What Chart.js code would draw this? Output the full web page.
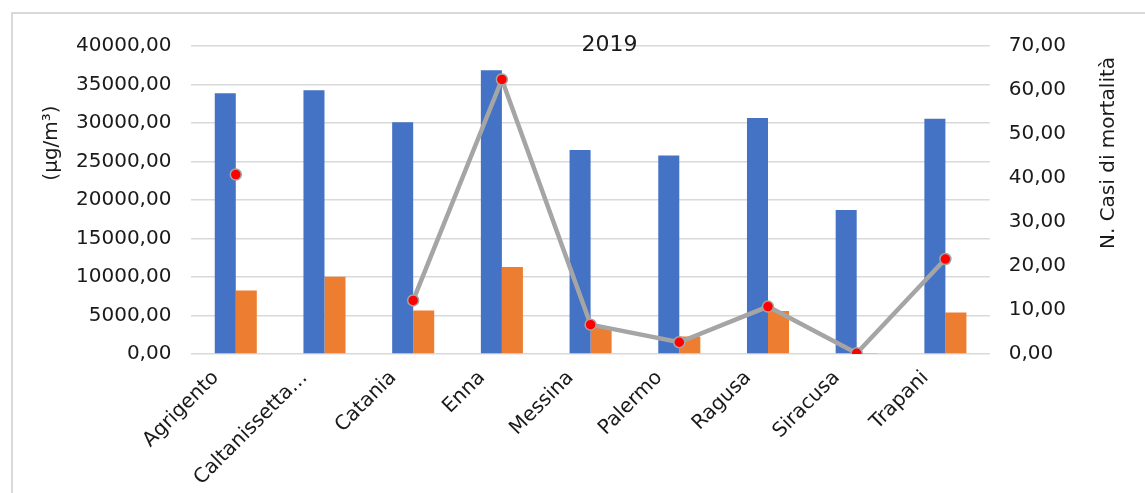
<!DOCTYPE html>
<html>
<head>
<meta charset="utf-8">
<script src="https://cdn.jsdelivr.net/npm/chart.js@4"></script>
<style>
  html, body { margin: 0; padding: 0; background: #fff; overflow: hidden; }
  #box { position: absolute; left: 11px; top: 12px; width: 1195px; height: 500px; border: 2px solid #d9d9d9; }
</style>
</head>
<body>
<div id="box"><canvas id="chart"></canvas></div>
<script>
const categories = ['Agrigento', 'Caltanissetta…', 'Catania', 'Enna', 'Messina', 'Palermo', 'Ragusa', 'Siracusa', 'Trapani'];
const serieBlu = [33850, 34250, 30100, 36850, 26500, 25800, 30650, 18700, 30550];
const serieArancio = [8250, 10050, 5650, 11300, 3400, 2300, 5600, 150, 5400];
const casiMortalita = [40.8, null, 12.2, 62.4, 6.7, 2.7, 10.8, 0.2, 21.6];

const titolo = '2019';
const titoloSx = '(µg/m³)';
const titoloDx = 'N. Casi di mortalità';

const font = 'DejaVu Sans';
const textColor = '#1a1a1a';

function virgola(v) {
    return v.toFixed(2).replace('.', ',');
}

// titoli disegnati a mano: l'asse destro in Excel legge dal basso verso l'alto
const titoliPlugin = {
    id: 'titoli',
    afterDraw(chart) {
        const ctx = chart.ctx;
        const area = chart.chartArea;
        ctx.save();
        ctx.fillStyle = textColor;
        ctx.textAlign = 'center';
        ctx.textBaseline = 'middle';

        ctx.font = '22px "' + font + '"';
        ctx.fillText(titolo, (area.left + area.right) / 2 + 19, area.top - 1);

        ctx.font = '20px "' + font + '"';
        ctx.save();
        ctx.translate(area.left - 140, area.top + 97);
        ctx.rotate(-Math.PI / 2);
        ctx.fillText(titoloSx, 0, 0);
        ctx.restore();

        ctx.save();
        ctx.translate(area.right + 119, area.top + 107);
        ctx.rotate(-Math.PI / 2);
        ctx.fillText(titoloDx, 0, 0);
        ctx.restore();
        ctx.restore();
    }
};

Chart.defaults.font.family = font;
Chart.defaults.font.size = 20;
Chart.defaults.color = textColor;

new Chart(document.getElementById('chart'), {
    type: 'bar',
    data: {
        labels: categories,
        datasets: [
            {
                type: 'line',
                label: titoloDx,
                data: casiMortalita,
                yAxisID: 'y2',
                borderColor: '#a5a5a5',
                borderWidth: 4.5,
                pointRadius: 5.5,
                pointBackgroundColor: '#ff0000',
                pointBorderColor: '#a5a5a5',
                pointBorderWidth: 1.5,
                spanGaps: false,
                tension: 0,
                order: 0
            },
            {
                label: 'Serie 1',
                data: serieBlu,
                backgroundColor: '#4472c4',
                yAxisID: 'y',
                order: 1
            },
            {
                label: 'Serie 2',
                data: serieArancio,
                backgroundColor: '#ed7d31',
                yAxisID: 'y',
                order: 1
            }
        ]
    },
    options: {
        responsive: true,
        maintainAspectRatio: false,
        animation: false,
        categoryPercentage: 0.474,
        barPercentage: 1,
        layout: { padding: { left: 43, right: 123, top: 30, bottom: 20 } },
        plugins: {
            legend: { display: false },
            tooltip: { enabled: false }
        },
        scales: {
            x: {
                grid: { display: false },
                border: { display: false },
                ticks: { minRotation: 45, maxRotation: 45, padding: 4, labelOffset: -20, autoSkip: false }
            },
            y: {
                position: 'left',
                min: 0,
                max: 40000,
                ticks: { stepSize: 5000, padding: 20, callback: v => virgola(v) },
                grid: { color: '#d9d9d9', lineWidth: 1.5, drawTicks: false },
                border: { display: false }
            },
            y2: {
                position: 'right',
                min: 0,
                max: 70,
                ticks: { stepSize: 10, padding: 19, callback: v => virgola(v) },
                grid: { display: false, drawTicks: false },
                border: { display: false }
            }
        }
    },
    plugins: [titoliPlugin]
});
</script>
</body>
</html>
